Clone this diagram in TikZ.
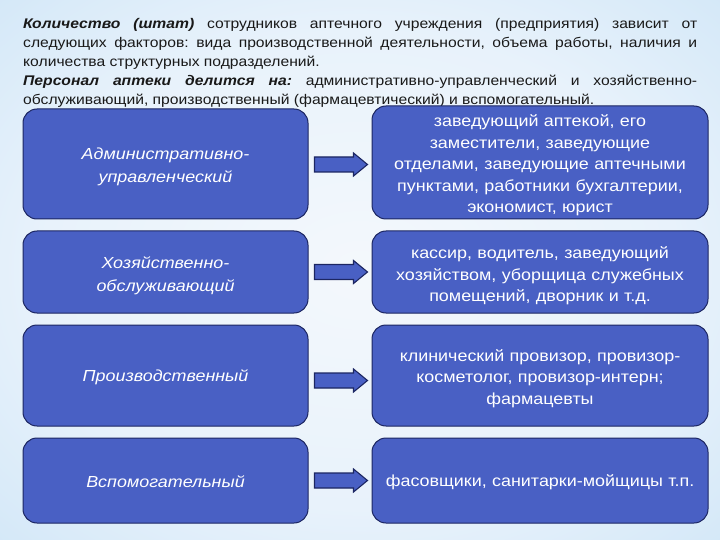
\documentclass[tikz,border=0pt]{standalone}
\usepackage{fontspec}
\setmainfont[FakeStretch=1.12]{Liberation Sans}
\usetikzlibrary{calc}
\definecolor{boxblue}{RGB}{73,96,196}
\definecolor{boxline}{RGB}{28,38,98}
\definecolor{bg0}{RGB}{244,248,252}
\definecolor{bg1}{RGB}{232,242,251}
\definecolor{bg2}{RGB}{206,229,247}
\definecolor{bg3}{RGB}{170,211,242}
\definecolor{bg4}{RGB}{128,190,236}
\pgfdeclareradialshading{bgshade}{\pgfpoint{0bp}{0bp}}{color(0bp)=(bg0); color(22bp)=(bg1); color(40bp)=(bg2); color(50bp)=(bg3); color(71bp)=(bg4)}
\begin{document}
\frenchspacing
\begin{tikzpicture}[x=1pt,y=-1pt,
  box/.style={draw=boxline, line width=1pt, fill=boxblue, rounded corners=14pt, inner sep=0pt},
  lbox/.style={box, minimum width=285pt},
  rbox/.style={box, minimum width=336pt},
  ltext/.style={text=white, align=center, inner sep=0pt, font=\fontsize{16}{23.5}\selectfont\itshape},
  rtext/.style={text=white, align=center, inner sep=0pt, text width=330pt, font=\fontsize{16}{21.5}\selectfont},
  fatarrow/.style={draw=boxline, line width=1.1pt, fill=boxblue, line join=miter}]
\useasboundingbox (0,0) rectangle (720,540);
\fill[shading=bgshade] (0,0) rectangle (720,540);
\node[anchor=north west, inner sep=0pt, text width=674pt, align=justify,
  font=\fontsize{14}{19}\selectfont, text=black!90] (head) at (23,18.5)
 {\parindent=0pt{\bfseries\itshape Количество (штат)} сотрудников аптечного учреждения (предприятия) зависит от\linebreak
 следующих факторов: вида производственной деятельности, объема работы, наличия и\linebreak
 количества структурных подразделений.\par
 {\bfseries\itshape Персонал аптеки делится на:} административно-управленческий и хозяйственно-\linebreak
 обслуживающий, производственный (фармацевтический) и вспомогательный.\par};
% left boxes
\node[lbox, minimum height=110pt] (a1) at (165.5,164) {};
\node[lbox, minimum height=82pt] (a2) at (165.5,272) {};
\node[lbox, minimum height=101pt] (a3) at (165.5,375.5) {};
\node[lbox, minimum height=85pt] (a4) at (165.5,480.5) {};
\node[ltext] (a1t) at ($(a1.center)+(0,3)$) {Административно-\\управленческий};
\node[ltext] (a2t) at ($(a2.center)+(0,3.5)$) {Хозяйственно-\\обслуживающий};
\node[ltext] (a3t) at ($(a3.center)+(0,2)$) {Производственный};
\node[ltext] (a4t) at ($(a4.center)+(0,1)$) {Вспомогательный};
% right boxes
\node[rbox, minimum height=113pt] (b1) at (540,162.5) {};
\node[rbox, minimum height=82pt] (b2) at (540,272) {};
\node[rbox, minimum height=101pt] (b3) at (540,375.5) {};
\node[rbox, minimum height=85pt] (b4) at (540,480.5) {};
\node[rtext] (b1t) at ($(b1.center)+(0,3)$) {заведующий аптекой, его\\заместители, заведующие\\отделами, заведующие аптечными\\пунктами, работники бухгалтерии,\\экономист, юрист};
\node[rtext] (b2t) at ($(b2.center)+(0,4)$) {кассир, водитель, заведующий\\хозяйством, уборщица служебных\\помещений, дворник и т.д.};
\node[rtext] (b3t) at ($(b3.center)+(0,3)$) {клинический провизор, провизор-\\косметолог, провизор-интерн;\\фармацевты};
\node[rtext] (b4t) at ($(b4.center)+(0,1.5)$) {фасовщики, санитарки-мойщицы т.п.};
% arrows
\foreach \i/\dy in {1/0.5,2/0,3/5,4/0}{
  \draw[fatarrow] ($(a\i.east)+(6,\dy-7.5)$) -- ++(39,0) -- ++(0,-4) -- ++(14,11.5)
    -- ++(-14,11.5) -- ++(0,-4) -- ++(-39,0) -- cycle;
}
\end{tikzpicture}
\end{document}
